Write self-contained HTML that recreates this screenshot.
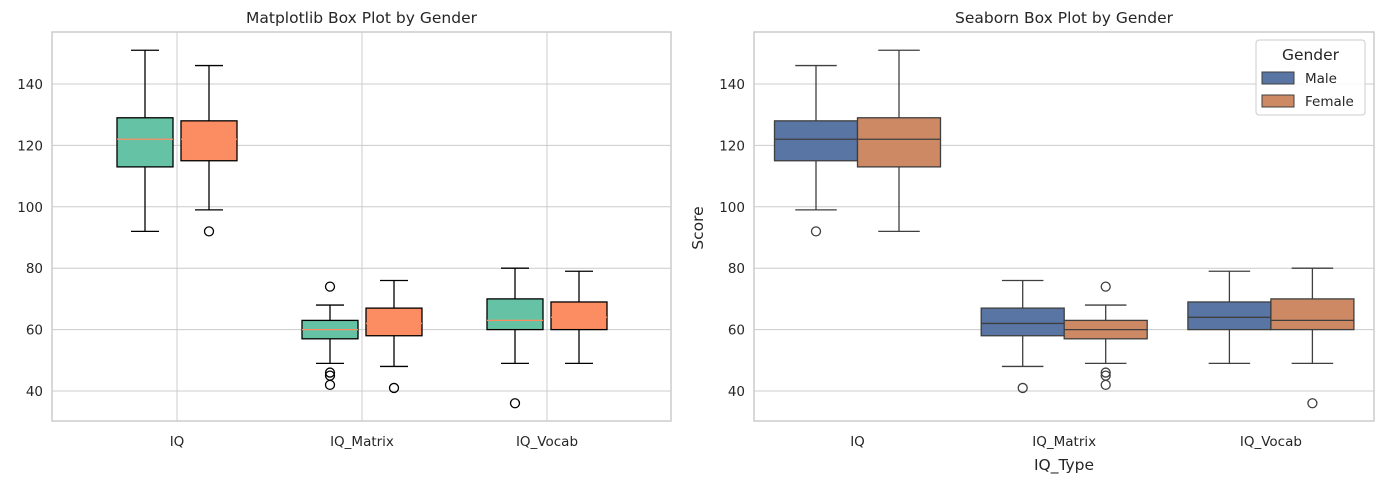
<!DOCTYPE html>
<html><head><meta charset="utf-8"><style>
body{margin:0;background:#fff;}
svg text{font-family:"DejaVu Sans","Liberation Sans",sans-serif;fill:#262626;}
</style></head><body>
<svg id="chart" width="1384" height="484" xmlns="http://www.w3.org/2000/svg"></svg>
<script>
const categories = ["IQ","IQ_Matrix","IQ_Vocab"];
const yTicks = [40,60,80,100,120,140];
// [whiskerLow, q1, median, q3, whiskerHigh]
const maleStats = [[99,115,122,128,146],[48,58,62,67,76],[49,60,64,69,79]];
const femaleStats = [[92,113,122,129,151],[49,57,60,63,68],[49,60,63,70,80]];
const maleOutliers = [[92],[41],[]];
const femaleOutliers = [[],[74,46,45,42],[36]];

const svgEl = document.getElementById('chart');
const NS = 'http://www.w3.org/2000/svg';
function mk(tag, attrs, parent){const e=document.createElementNS(NS,tag);for(const k in attrs)e.setAttribute(k,attrs[k]);(parent||svgEl).appendChild(e);return e;}
function y(v){return 391-(v-40)*3.07;}
const yTop=32, yBottom=421;

function drawAxes(x0,x1,title,vgrid,name){
  const g=mk('g',{});
  
  
  yTicks.forEach(t=>{
    const l=mk('line',{x1:x0,x2:x1,y1:y(t),y2:y(t),stroke:'#cccccc','stroke-width':1},g);
    
    
    const tx=mk('text',{x:x0-9,y:y(t)+5,'text-anchor':'end','font-size':13.5},g);
    tx.textContent=t;
    
    
  });
  if(vgrid) vgrid.forEach(cx=>{mk('line',{x1:cx,x2:cx,y1:yTop,y2:yBottom,stroke:'#cccccc','stroke-width':1},g);});
  const fr=mk('rect',{x:x0,y:yTop,width:x1-x0,height:yBottom-yTop,fill:'none',stroke:'#cccccc','stroke-width':1.5},g);
  
  
  const tt=mk('text',{x:(x0+x1)/2,y:23,'text-anchor':'middle','font-size':15.5},g);
  tt.textContent=title;
  
  
  return g;
}

function box(g,cx,w,cap,s,outs,fill,stroke,med,sw,name){
  const b=mk('g',{},g);
  
  
  mk('line',{x1:cx,x2:cx,y1:y(s[0]),y2:y(s[1]),stroke:stroke,'stroke-width':sw},b);
  mk('line',{x1:cx,x2:cx,y1:y(s[3]),y2:y(s[4]),stroke:stroke,'stroke-width':sw},b);
  mk('line',{x1:cx-cap/2,x2:cx+cap/2,y1:y(s[0]),y2:y(s[0]),stroke:stroke,'stroke-width':sw},b);
  mk('line',{x1:cx-cap/2,x2:cx+cap/2,y1:y(s[4]),y2:y(s[4]),stroke:stroke,'stroke-width':sw},b);
  mk('rect',{x:cx-w/2,y:y(s[3]),width:w,height:y(s[1])-y(s[3]),fill:fill,stroke:stroke,'stroke-width':sw},b);
  mk('line',{x1:cx-w/2,x2:cx+w/2,y1:y(s[2]),y2:y(s[2]),stroke:med,'stroke-width':sw},b);
  outs.forEach(o=>{mk('circle',{cx:cx,cy:y(o),r:4.5,fill:'none',stroke:stroke,'stroke-width':sw},b);});
}

// Left: matplotlib
const lx=i=>177+185*i;
const gl=drawAxes(52,671,'Matplotlib Box Plot by Gender',categories.map((c,i)=>lx(i)),'matplotlib-panel');
categories.forEach((c,i)=>{
  box(gl,lx(i)-32,56,28,femaleStats[i],femaleOutliers[i],'#66c2a5','#000','#fc8d62',1.3,'female-box-'+c);
  box(gl,lx(i)+32,56,28,maleStats[i],maleOutliers[i],'#fc8d62','#000','#fc8d62',1.3,'male-box-'+c);
  const t=mk('text',{x:lx(i),y:446,'text-anchor':'middle','font-size':13.5},gl);
  t.textContent=c;
  
  
});

// Right: seaborn
const rx=i=>857.5+206.7*i;
const gr=drawAxes(754,1374,'Seaborn Box Plot by Gender',null,'seaborn-panel');
categories.forEach((c,i)=>{
  box(gr,rx(i)-41.5,83,41.5,maleStats[i],maleOutliers[i],'#5875a4','#3f3f3f','#3f3f3f',1.3,'male-box-'+c);
  box(gr,rx(i)+41.5,83,41.5,femaleStats[i],femaleOutliers[i],'#cc8963','#3f3f3f','#3f3f3f',1.3,'female-box-'+c);
  const t=mk('text',{x:rx(i),y:446,'text-anchor':'middle','font-size':13.5},gr);
  t.textContent=c;
  
  
});
const xl=mk('text',{x:1064,y:470,'text-anchor':'middle','font-size':15.5},gr);
xl.textContent='IQ_Type';


const yl=mk('text',{x:703,y:228,'text-anchor':'middle','font-size':15.5,transform:'rotate(-90 703 228)'},gr);
yl.textContent='Score';



// Legend
const lg=mk('g',{},gr);


mk('rect',{x:1256,y:40,width:109,height:75,rx:3,fill:'#fff','fill-opacity':0.85,stroke:'#cccccc'},lg);
const lt=mk('text',{x:1310.5,y:60,'text-anchor':'middle','font-size':15.5},lg);
lt.textContent='Gender';


[['Male','#5875a4',78],['Female','#cc8963',101]].forEach(([n,c,yy])=>{
  const e=mk('g',{},lg);
  
  
  mk('rect',{x:1262,y:yy-6,width:32,height:12,fill:c,stroke:'#3f3f3f','stroke-width':1},e);
  const t=mk('text',{x:1305,y:yy+5,'font-size':13.5},e);
  t.textContent=n;
});
</script>
</body></html>
